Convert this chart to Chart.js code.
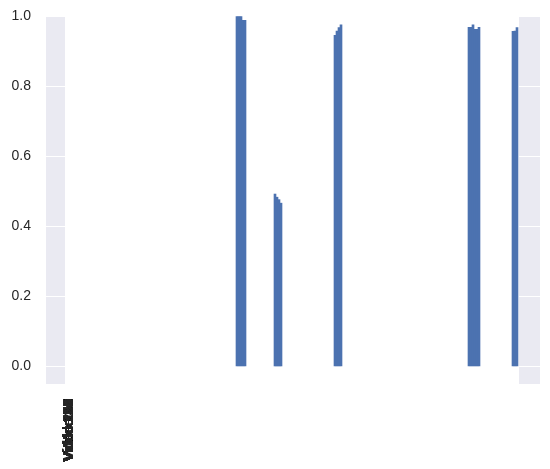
<!DOCTYPE html>
<html>
<head>
<meta charset="utf-8">
<script src="https://cdn.jsdelivr.net/npm/chart.js@4/dist/chart.umd.min.js"></script>
<style>
  body { margin: 0; background: #ffffff; }
  canvas { display: block; }
</style>
</head>
<body>
<canvas id="viewsChart" width="550" height="469"></canvas>
<script>
// one bar per video, most of them empty
var views = [
    0, 0, 0, 0, 0, 0, 0, 0, 0, 0, 0, 0, 0, 0, 0, 0, 0, 0, 0, 0,
    0, 0, 0, 0, 0, 0, 0, 0, 0, 0, 0, 0, 0, 0, 0, 0, 0, 0, 0, 0,
    0, 0, 0, 0, 0, 0, 0, 0, 0, 0, 0, 0, 0, 0, 0, 0, 0, 0, 0, 0,
    0, 0, 0, 0, 0, 0, 0, 0, 0, 0, 0, 0, 0, 0, 0, 0, 0, 0, 0, 0,
    0, 0, 0, 0, 0, 0.998, 0.998, 0.998, 0.988, 0.988, 0, 0, 0, 0, 0, 0, 0, 0, 0, 0,
    0, 0, 0, 0, 0.492, 0.483, 0.476, 0.466, 0, 0, 0, 0, 0, 0, 0, 0, 0, 0, 0, 0,
    0, 0, 0, 0, 0, 0, 0, 0, 0, 0, 0, 0, 0, 0, 0.945, 0.957, 0.967, 0.975, 0, 0,
    0, 0, 0, 0, 0, 0, 0, 0, 0, 0, 0, 0, 0, 0, 0, 0, 0, 0, 0, 0,
    0, 0, 0, 0, 0, 0, 0, 0, 0, 0, 0, 0, 0, 0, 0, 0, 0, 0, 0, 0,
    0, 0, 0, 0, 0, 0, 0, 0, 0, 0, 0, 0, 0, 0, 0, 0, 0, 0, 0, 0,
    0, 0.968, 0.968, 0.975, 0.962, 0.962, 0.968, 0, 0, 0, 0, 0, 0, 0, 0, 0, 0, 0, 0, 0,
    0, 0, 0, 0.956, 0.957, 0.967
];
var videos = views.map(function (v, i) { return 'Video ' + (i + 1); });
var yTicks = [0, 0.2, 0.4, 0.6, 0.8, 1.0];

// empty slots either side, like matplotlib's x margins
var PAD_L = 10;
var PAD_R = 11;
var labels = Array(PAD_L).fill('').concat(videos, Array(PAD_R).fill(''));
var values = Array(PAD_L).fill(null).concat(views, Array(PAD_R).fill(null));

var FONT = 'Liberation Sans';
var INK = '#262626';

var plotBg = {
    id: 'plotBg',
    beforeDraw: function (chart) {
        var a = chart.chartArea, c = chart.ctx;
        c.save();
        c.fillStyle = '#EAEAF2';
        c.fillRect(a.left, a.top, a.right - a.left, a.bottom - a.top);
        c.restore();
    }
};

// all tick labels end up piled on the first bar
var stackedLabels = {
    id: 'stackedLabels',
    afterDraw: function (chart) {
        var x = chart.scales.x.getPixelForValue(PAD_L) + 2;
        var y = chart.chartArea.bottom + 15;
        var c = chart.ctx;
        c.save();
        c.font = '14px "' + FONT + '"';
        c.fillStyle = INK;
        c.textAlign = 'right';
        c.textBaseline = 'middle';
        videos.forEach(function (t) {
            c.save();
            c.translate(x, y);
            c.rotate(-Math.PI / 2);
            c.fillText(t, 0, 0);
            c.restore();
        });
        c.restore();
    }
};

var ctx = document.getElementById('viewsChart').getContext('2d');
var viewsChart = new Chart(ctx, {
    type: 'bar',
    data: {
        labels: labels,
        datasets: [{
            data: values,
            backgroundColor: function (c) {
                return c.raw ? '#4C72B0' : 'rgba(0,0,0,0)';
            },
            borderWidth: 0,
            barPercentage: 1,
            categoryPercentage: 1
        }]
    },
    options: {
        responsive: false,
        animation: false,
        layout: { padding: { top: 16, right: 10, left: 0, bottom: 0 } },
        plugins: { legend: { display: false }, tooltip: { enabled: false } },
        scales: {
            x: {
                offset: true,
                border: { display: false },
                grid: {
                    offset: true,
                    drawTicks: false,
                    lineWidth: 2,
                    color: function (c) {
                        if (c.type !== 'tick') return 'rgba(0,0,0,0)';
                        return (c.index >= PAD_L && c.index <= PAD_L + views.length) ? '#ffffff' : 'rgba(0,0,0,0)';
                    }
                },
                ticks: { display: false, autoSkip: false },
                afterFit: function (scale) {
                    scale.height = 85;
                    scale.paddingLeft = 0;
                    scale.paddingRight = 0;
                }
            },
            y: {
                min: -0.05,
                max: 1.0,
                border: { display: false },
                grid: { color: '#ffffff', lineWidth: 1, drawTicks: false },
                afterBuildTicks: function (scale) {
                    scale.ticks = yTicks.map(function (v) { return { value: v }; });
                },
                ticks: {
                    padding: 15,
                    color: INK,
                    font: { family: FONT, size: 14 },
                    callback: function (v) { return v.toFixed(1); }
                },
                afterFit: function (scale) {
                    scale.width = 46;
                    scale.paddingTop = 0;
                    scale.paddingBottom = 0;
                }
            }
        }
    },
    plugins: [plotBg, stackedLabels]
});
</script>
</body>
</html>
